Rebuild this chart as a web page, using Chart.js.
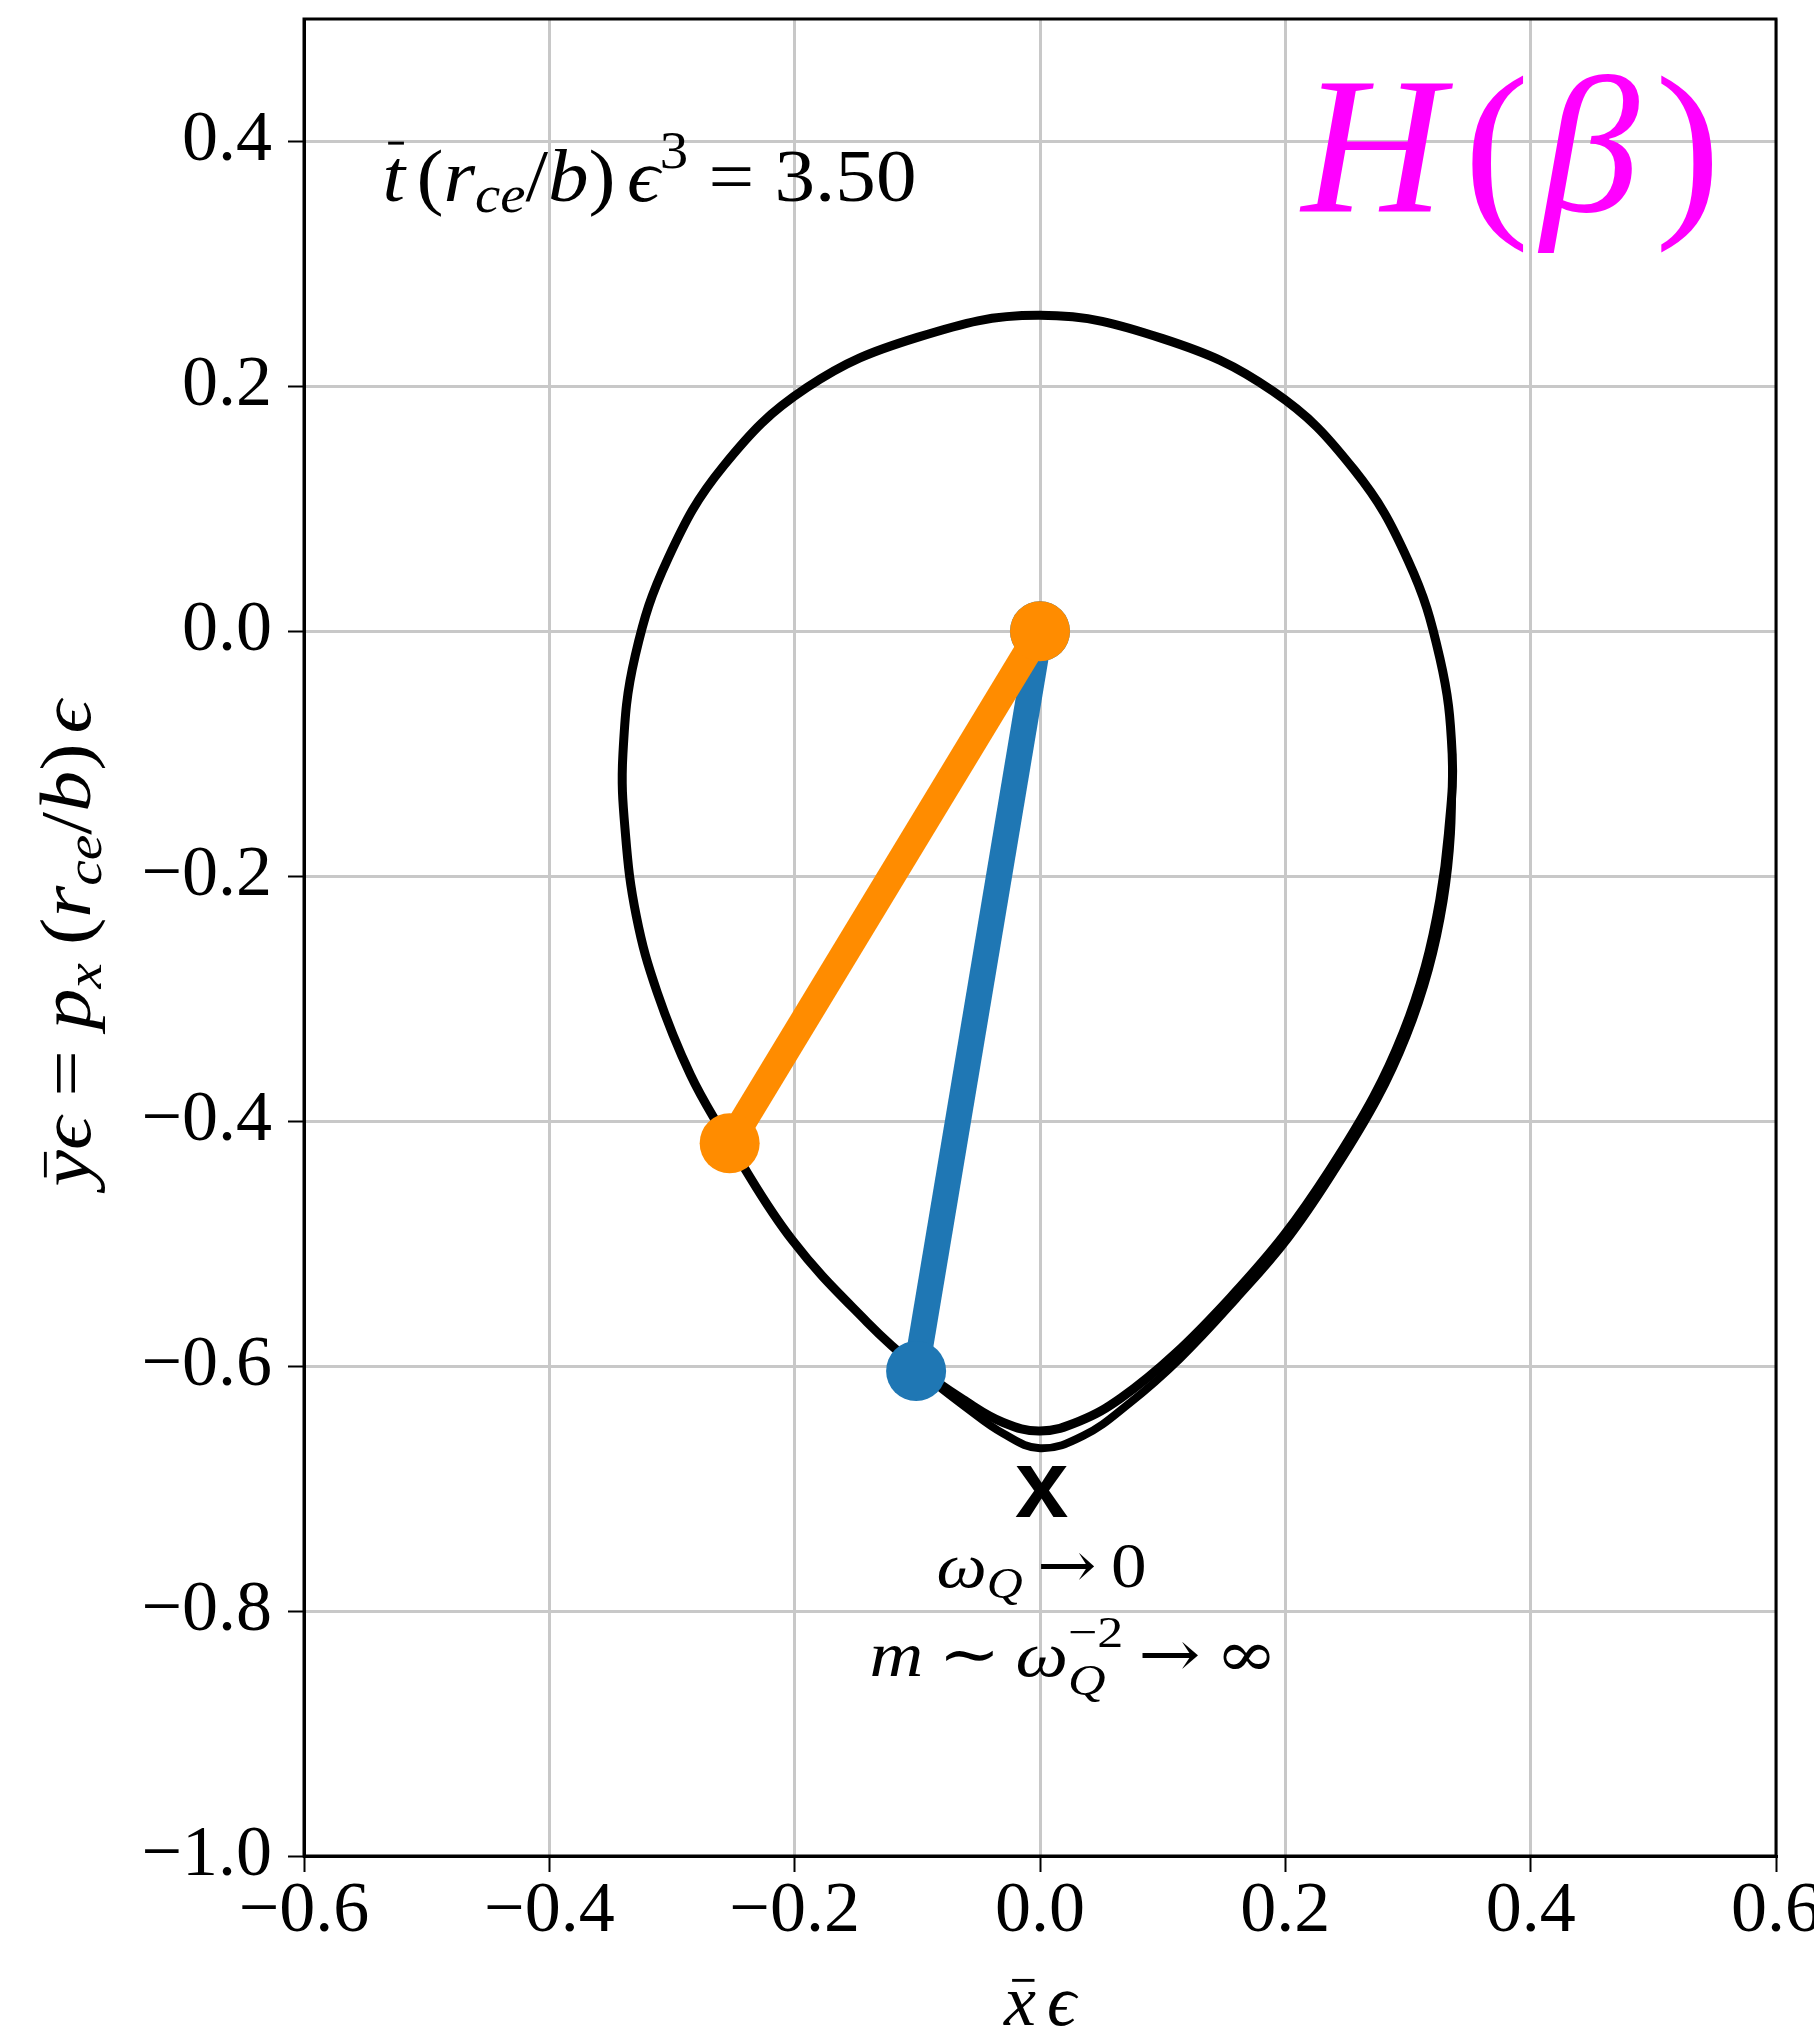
<!DOCTYPE html>
<html><head><meta charset="utf-8">
<script src="https://cdn.jsdelivr.net/npm/chart.js@4.4.1/dist/chart.umd.min.js"></script>
<style>html,body{margin:0;padding:0;background:#fff;overflow:hidden}canvas{display:block}</style>
</head><body>
<canvas id="c" width="1814" height="2031"></canvas>
<script>
// ---- data ----
const xTickValues = [-0.6, -0.4, -0.2, 0.0, 0.2, 0.4, 0.6];
const yTickValues = [-1.0, -0.8, -0.6, -0.4, -0.2, 0.0, 0.2, 0.4];

// closed trajectory (main loop); starts and ends at the orange bob
const loopX = [-0.255, -0.285, -0.312, -0.329, -0.338, -0.340, -0.330, -0.303, -0.258, -0.190, -0.100, 0.000, 0.100, 0.190, 0.256, 0.300, 0.326, 0.336, 0.333, 0.326, 0.314, 0.296, 0.272, 0.236, 0.199, 0.157, 0.110, 0.066, 0.032, 0.000, -0.030, -0.060, -0.100, -0.141, -0.202, -0.255];
const loopY = [-0.416, -0.362, -0.295, -0.233, -0.165, -0.100, -0.020, 0.060, 0.135, 0.199, 0.240, 0.258, 0.239, 0.196, 0.132, 0.058, -0.022, -0.100, -0.165, -0.219, -0.274, -0.328, -0.380, -0.440, -0.493, -0.542, -0.590, -0.626, -0.645, -0.653, -0.646, -0.629, -0.601, -0.564, -0.497, -0.416];

// second pass of the trajectory near the bottom (from the blue bob round to the right flank)
const trailX = [-0.100, -0.060, -0.030, 0.000, 0.035, 0.072, 0.114, 0.160, 0.202, 0.239, 0.275, 0.299, 0.317, 0.329, 0.335, 0.336];
const trailY = [-0.603, -0.634, -0.655, -0.667, -0.657, -0.631, -0.594, -0.545, -0.496, -0.442, -0.382, -0.330, -0.276, -0.220, -0.165, -0.100];

// pendulum arms
const orangeArmX = [0.000, -0.253];
const orangeArmY = [0.000, -0.418];
const blueArmX = [0.000, -0.101];
const blueArmY = [0.000, -0.604];

const pts = (xs, ys) => xs.map((x, i) => ({x: x, y: ys[i]}));
const fmt = v => (v < -1e-9 ? '\u2212' : '') + Math.abs(v).toFixed(1);

const SERIF = '"Liberation Serif", "DejaVu Serif", serif';
const SYM = '"DejaVu Serif", "Liberation Serif", serif';

function drawRich(ctx, segs, size, x, y, opts) {
  opts = opts || {};
  const items = [];
  let cx = 0, lastStart = 0;
  for (const s of segs) {
    const fs = size * (s.sc || 1);
    const font = (s.it ? 'italic ' : '') + fs + 'px ' + (s.sym ? SYM : SERIF);
    ctx.font = font;
    const w = ctx.measureText(s.t).width;
    let sx;
    if (s.ov) { sx = lastStart; }
    else { sx = cx + (s.gl || 0) * size; lastStart = sx; }
    items.push({t: s.t, font: font, x: sx, dy: (s.dy || 0) * size, w: w, bar: s.bar, bh: (s.bh || 0.7) * fs, fs: fs});
    cx = Math.max(cx, sx + w + (s.gr || 0) * size);
  }
  const total = cx;
  let scaleX = 1;
  if (opts.fitW) scaleX = opts.fitW / total;
  const W = total * scaleX;
  let left = x;
  if (opts.align === 'center') left = x - W / 2;
  else if (opts.align === 'right') left = x - W;
  ctx.save();
  ctx.translate(left, y);
  ctx.scale(scaleX, 1);
  ctx.fillStyle = opts.color || '#000';
  ctx.strokeStyle = opts.color || '#000';
  ctx.textBaseline = 'alphabetic';
  ctx.textAlign = 'left';
  for (const it of items) {
    ctx.font = it.font;
    ctx.fillText(it.t, it.x, -it.dy);
    if (it.bar) {
      ctx.lineWidth = Math.max(2, it.fs * 0.04);
      ctx.beginPath();
      ctx.moveTo(it.x + it.w * 0.25, -it.dy - it.bh);
      ctx.lineTo(it.x + it.w * 0.95, -it.dy - it.bh);
      ctx.stroke();
    }
  }
  ctx.restore();
}

const annoSegs = [
  {t: 't', it: true, bar: true, bh: 0.78},
  {t: '(', gl: 0.14}, {t: 'r', it: true}, {t: 'ce', it: true, sc: 0.7, dy: -0.15},
  {t: '/'}, {t: 'b', it: true}, {t: ')'},
  {t: '\u03F5', it: true, gl: 0.14}, {t: '3', sc: 0.7, dy: 0.45},
  {t: '=', gl: 0.25, gr: 0.25}, {t: '3.50'}
];
const hSegs = [{t: 'H', it: true}, {t: '(', gl: 0.1}, {t: '\u03B2', it: true, gl: 0.06}, {t: ')', gl: 0.08}];
const wSegs = [{t: '\u03C9', it: true}, {t: 'Q', it: true, sc: 0.7, dy: -0.18},
  {t: '\u2192', sym: true, gl: 0.2, gr: 0.2}, {t: '0'}];
const mSegs = [{t: 'm', it: true}, {t: '\u223C', sym: true, gl: 0.2, gr: 0.2}, {t: '\u03C9', it: true},
  {t: 'Q', it: true, sc: 0.7, dy: -0.3}, {t: '\u22122', sc: 0.7, dy: 0.45, ov: true},
  {t: '\u2192', sym: true, gl: 0.2, gr: 0.2}, {t: '\u221E', sym: true}];
const yTitleSegs = [{t: 'y', it: true, bar: true, bh: 0.62}, {t: '\u03F5', it: true},
  {t: '=', gl: 0.25, gr: 0.25}, {t: 'p', it: true}, {t: 'x', it: true, sc: 0.7, dy: -0.15},
  {t: '(', gl: 0.22}, {t: 'r', it: true}, {t: 'ce', it: true, sc: 0.7, dy: -0.15},
  {t: '/'}, {t: 'b', it: true}, {t: ')'}, {t: '\u03F5', it: true, gl: 0.12}];
const xTitleSegs = [{t: 'x', it: true, bar: true, bh: 0.62}, {t: '\u03F5', it: true, gl: 0.15}];

const textPlugin = {
  id: 'texts',
  beforeDraw(chart) {
    const c = chart.ctx;
    c.save(); c.fillStyle = '#fff'; c.fillRect(0, 0, chart.width, chart.height); c.restore();
  },
  afterDatasetsDraw(chart) {
    const c = chart.ctx, xs = chart.scales.x, ys = chart.scales.y, a = chart.chartArea;
    c.save();
    c.strokeStyle = '#000'; c.lineWidth = 3;
    c.strokeRect(a.left, a.top, a.right - a.left, a.bottom - a.top);
    c.restore();
    drawRich(c, annoSegs, 74, xs.getPixelForValue(-0.536), ys.getPixelForValue(0.3515), {fitW: 534});
    drawRich(c, hSegs, 196, xs.getPixelForValue(0.2133), ys.getPixelForValue(0.343), {fitW: 419, color: '#ff00ff'});
    drawRich(c, wSegs, 64, xs.getPixelForValue(-0.0843), ys.getPixelForValue(-0.780), {fitW: 210});
    drawRich(c, mSegs, 64, xs.getPixelForValue(-0.139), ys.getPixelForValue(-0.853), {fitW: 408});
    c.save();
    c.fillStyle = '#000';
    c.font = 'bold 96px "Liberation Sans", "DejaVu Sans", sans-serif';
    c.textAlign = 'center'; c.textBaseline = 'alphabetic';
    c.fillText('x', xs.getPixelForValue(0.0013), ys.getPixelForValue(-0.7235));
    c.restore();
    drawRich(c, xTitleSegs, 72, (a.left + a.right) / 2, 2025, {align: 'center'});
    c.save();
    c.translate(90, (a.top + a.bottom) / 2 + 6);
    c.rotate(-Math.PI / 2);
    drawRich(c, yTitleSegs, 72, 0, 0, {align: 'center', fitW: 486});
    c.restore();
  }
};

const tickFont = {family: SERIF, size: 72, lineHeight: 1.1};

new Chart(document.getElementById('c'), {
  type: 'scatter',
  data: {
    datasets: [
      {data: pts(orangeArmX, orangeArmY), showLine: true, borderColor: '#ff8c00', backgroundColor: '#ff8c00',
       borderWidth: 28, pointRadius: 30, pointBorderWidth: 0, pointBackgroundColor: '#ff8c00', order: 0, tension: 0},
      {data: pts(blueArmX, blueArmY), showLine: true, borderColor: '#1f77b4', backgroundColor: '#1f77b4',
       borderWidth: 26, pointRadius: 30, pointBorderWidth: 0, pointBackgroundColor: '#1f77b4', order: 1, tension: 0},
      {data: pts(trailX, trailY), showLine: true, borderColor: '#000', borderWidth: 8, pointRadius: 0,
       tension: 0.4, order: 2},
      {data: pts(loopX, loopY), showLine: true, borderColor: '#000', borderWidth: 9, pointRadius: 0,
       tension: 0.4, order: 3}
    ]
  },
  options: {
    responsive: false,
    devicePixelRatio: 1,
    animation: false,
    layout: {autoPadding: false, padding: {top: 19, right: 38, left: 0, bottom: 0}},
    plugins: {legend: {display: false}, tooltip: {enabled: false}},
    scales: {
      x: {
        type: 'linear', min: -0.6, max: 0.6,
        afterBuildTicks: s => { s.ticks = xTickValues.map(v => ({value: v})); },
        afterFit: s => { s.height = 175; s.paddingLeft = 0; s.paddingRight = 0; },
        ticks: {font: tickFont, color: '#000', padding: 0, maxRotation: 0, minRotation: 0, autoSkip: false, callback: v => fmt(v)},
        grid: {color: '#c8c8c8', lineWidth: 3, tickLength: 16, tickColor: '#000', tickWidth: 2},
        border: {color: '#000', width: 3}
      },
      y: {
        type: 'linear', min: -1.0, max: 0.5,
        afterBuildTicks: s => { s.ticks = yTickValues.map(v => ({value: v})); },
        afterFit: s => { s.width = 304; s.paddingTop = 0; s.paddingBottom = 0; },
        ticks: {font: tickFont, color: '#000', padding: 16, autoSkip: false, callback: v => fmt(v)},
        grid: {color: '#c8c8c8', lineWidth: 3, tickLength: 16, tickColor: '#000', tickWidth: 2},
        border: {color: '#000', width: 3}
      }
    }
  },
  plugins: [textPlugin]
});
</script></body></html>
